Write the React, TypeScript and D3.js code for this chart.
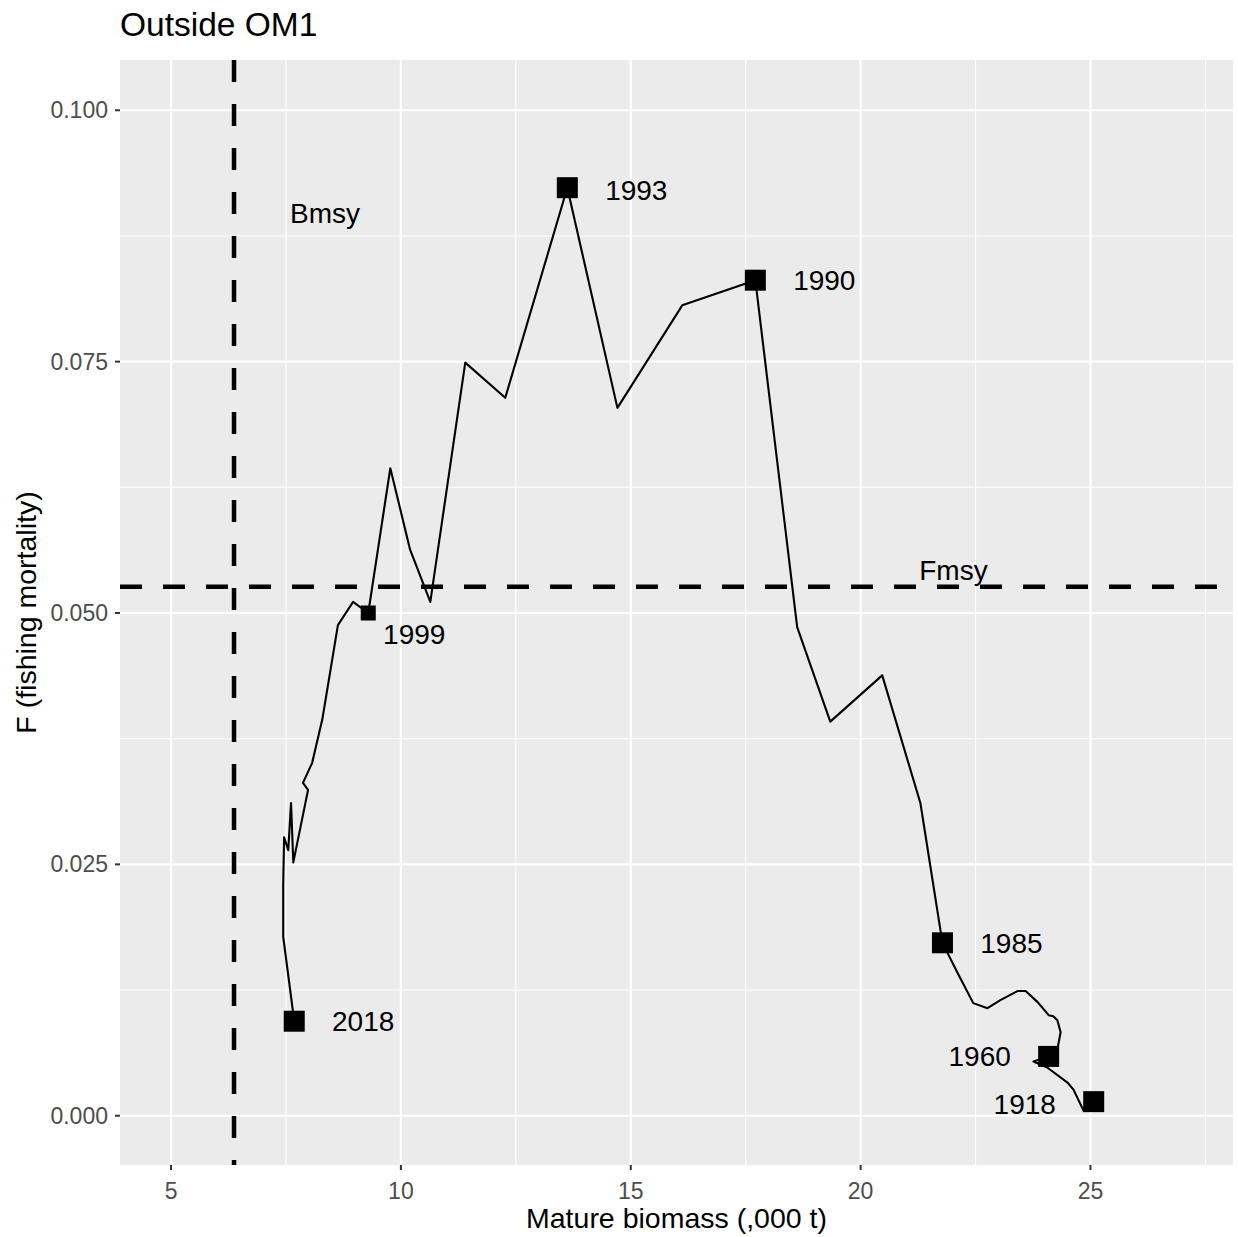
import React, { useEffect } from "react";
// @ts-ignore
import * as d3 from "d3";

// trajectory 1918 -> 2018 (mature biomass, '000 t vs F)
const biomass = [
  25.07, 24.85, 24.63, 24.5, 24.06, 23.76, 24.09, 24.28, 24.35, 24.28, 24.19, 24.09, 23.85, 23.59,
  23.41, 23.04, 22.76, 22.45, 22.11, 21.89, 21.78, 21.3, 20.47, 19.34, 18.62, 17.71, 16.12, 14.71,
  13.62, 12.27, 11.4, 10.64, 10.2, 9.77, 9.29, 8.96, 8.63, 8.29, 8.07, 7.87, 7.98, 7.66, 7.61, 7.55,
  7.46, 7.44, 7.44, 7.68,
];
const fishingF = [
  0.0014, 0.0005, 0.0026, 0.0033, 0.0048, 0.0054, 0.0059, 0.0066, 0.0083, 0.0095, 0.0099, 0.01,
  0.0113, 0.0124, 0.0124, 0.0115, 0.0107, 0.0112, 0.0142, 0.0162, 0.0172, 0.0311, 0.0438, 0.0392,
  0.0486, 0.0831, 0.0806, 0.0704, 0.0923, 0.0714, 0.0749, 0.0511, 0.0563, 0.0644, 0.05, 0.0511,
  0.0488, 0.0394, 0.0351, 0.0331, 0.0324, 0.0252, 0.0311, 0.0264, 0.0277, 0.023, 0.0178, 0.0094,
];

const labelYears = ["1918", "1960", "1985", "1990", "1993", "1999", "2018"];
const labelIndex = [0, 6, 20, 25, 28, 34, 47];

const Bmsy = 6.37;
const Fmsy = 0.0526;

const xTicks = [5, 10, 15, 20, 25];
const xMinor = [7.5, 12.5, 17.5, 22.5, 27.5];
const yTicks = [0, 0.025, 0.05, 0.075, 0.1];
const yMinor = [0.0125, 0.0375, 0.0625, 0.0875];

// label placement (data units) and marker size, one per labelled year
const labelDx = [-1.5, -1.5, 1.5, 1.5, 1.5, 1.0, 1.5];
const labelDy = [-0.0003, 0, 0, 0, -0.0002, -0.0021, 0];
const markerSize = [21, 21, 21, 21, 21, 15, 21];

const W = 1238;
const H = 1237;
const left = 120;
const right = 1233;
const top = 60;
const bottom = 1165;
const font = "'Liberation Sans', Arial, sans-serif";

export default function App() {
  useEffect(() => {
    document.body.style.margin = "0";
  }, []);

  const x = d3.scaleLinear().domain([3.89, 28.1]).range([left, right]);
  const y = d3.scaleLinear().domain([-0.0049, 0.105]).range([bottom, top]);

  const line = d3
    .line<number>()
    .x((d, i) => x(biomass[i]))
    .y((d) => y(d));

  return (
    <svg width={W} height={H} style={{ display: "block", fontFamily: font }}>
      <rect x={0} y={0} width={W} height={H} fill="#ffffff" />
      <text x={120} y={36} fontSize={33.5} fill="#000">
        Outside OM1
      </text>

      <rect x={left} y={top} width={right - left} height={bottom - top} fill="#EBEBEB" />
      {xMinor.map((v) => (
        <line key={"xm" + v} x1={x(v)} x2={x(v)} y1={top} y2={bottom} stroke="#fff" strokeWidth={1.1} />
      ))}
      {yMinor.map((v) => (
        <line key={"ym" + v} x1={left} x2={right} y1={y(v)} y2={y(v)} stroke="#fff" strokeWidth={1.1} />
      ))}
      {xTicks.map((v) => (
        <line key={"xM" + v} x1={x(v)} x2={x(v)} y1={top} y2={bottom} stroke="#fff" strokeWidth={2.2} />
      ))}
      {yTicks.map((v) => (
        <line key={"yM" + v} x1={left} x2={right} y1={y(v)} y2={y(v)} stroke="#fff" strokeWidth={2.2} />
      ))}

      {/* axes ticks and labels */}
      {xTicks.map((v) => (
        <g key={"xt" + v}>
          <line x1={x(v)} x2={x(v)} y1={bottom} y2={bottom + 5} stroke="#333" strokeWidth={2} />
          <text x={x(v)} y={1199} fontSize={23} fill="#4D4D4D" textAnchor="middle">
            {v}
          </text>
        </g>
      ))}
      {yTicks.map((v) => (
        <g key={"yt" + v}>
          <line x1={left - 5} x2={left} y1={y(v)} y2={y(v)} stroke="#333" strokeWidth={2} />
          <text x={108} y={y(v)} dy="0.35em" fontSize={23} fill="#4D4D4D" textAnchor="end">
            {d3.format(".3f")(v)}
          </text>
        </g>
      ))}
      <text x={(left + right) / 2} y={1228} fontSize={28.5} textAnchor="middle" fill="#000">
        Mature biomass (,000 t)
      </text>
      <text
        transform={`translate(36,${(top + bottom) / 2}) rotate(-90)`}
        fontSize={28.5}
        textAnchor="middle"
        fill="#000"
      >
        F (fishing mortality)
      </text>

      {/* reference lines */}
      <line x1={x(Bmsy)} x2={x(Bmsy)} y1={top} y2={bottom} stroke="#000" strokeWidth={4.5} strokeDasharray="22,22" />
      <line x1={left} x2={right} y1={y(Fmsy)} y2={y(Fmsy)} stroke="#000" strokeWidth={4.5} strokeDasharray="22,21" />
      <text x={x(8.35)} y={y(0.0898)} dy="0.35em" fontSize={28} textAnchor="middle" fill="#000">
        Bmsy
      </text>
      <text x={x(22.02)} y={y(0.0543)} dy="0.35em" fontSize={28} textAnchor="middle" fill="#000">
        Fmsy
      </text>

      {/* trajectory */}
      <path d={line(fishingF) || ""} fill="none" stroke="#000" strokeWidth={2.1} strokeLinejoin="round" />

      {labelIndex.map((idx, i) => {
        const cx = x(biomass[idx]);
        const cy = y(fishingF[idx]);
        const s = markerSize[i];
        return (
          <g key={labelYears[i]}>
            <rect x={cx - s / 2} y={cy - s / 2} width={s} height={s} fill="#000" />
            <text
              x={x(biomass[idx] + labelDx[i])}
              y={y(fishingF[idx] + labelDy[i])}
              dy="0.35em"
              fontSize={28}
              textAnchor="middle"
              fill="#000"
            >
              {labelYears[i]}
            </text>
          </g>
        );
      })}
    </svg>
  );
}
